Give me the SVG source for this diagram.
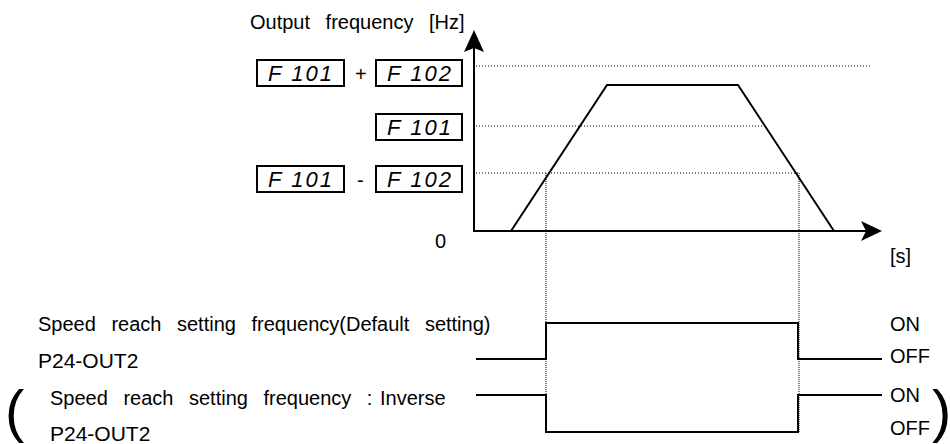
<svg xmlns="http://www.w3.org/2000/svg" width="950" height="444" viewBox="0 0 950 444">
<style>
  text { font-family: "Liberation Sans", Arial, sans-serif; fill: #000; }
  .lbl { font-size: 20px; }
  .wide { word-spacing: 10px; }
  .p24 { font-size: 21px; }
  .seg { font-size: 22px; font-style: italic; }
  .box { fill: #fff; stroke: #000; stroke-width: 2; }
  .solid { fill: none; stroke: #000; stroke-width: 2; }
  .dot { fill: none; stroke: #000; stroke-width: 1; stroke-dasharray: 1 2; }
  .vdot { fill: none; stroke: #000; stroke-width: 1; stroke-dasharray: 1 1; }
  .paren { font-size: 58px; }
</style>
<rect width="950" height="444" fill="#fff"/>

<g id="connectors">
  <line class="dot" x1="476" y1="66" x2="870" y2="66"/>
  <line class="dot" x1="476" y1="126" x2="762" y2="126"/>
  <line class="dot" x1="476" y1="173" x2="798" y2="173"/>
  <line class="vdot" x1="546" y1="173" x2="546" y2="432"/>
  <line class="vdot" x1="799" y1="173" x2="799" y2="432"/>
</g>

<g id="axes">
  <line class="solid" x1="474" y1="231" x2="474" y2="46"/>
  <path d="M474,30 L484,52 L474,48 L464,52 Z" fill="#000"/>
  <line class="solid" x1="473" y1="231" x2="866" y2="231"/>
  <path d="M882,231 L861,241 L866,231 L861,221 Z" fill="#000"/>
  <text class="lbl wide" x="250" y="29">Output frequency [Hz]</text>
  <text class="lbl" x="435" y="248">0</text>
  <text class="lbl" x="890" y="263">[s]</text>
</g>

<g id="frequency-curve">
  <polyline class="solid" points="511,231 607,85 738,85 834,231"/>
</g>

<g id="level-sum">
  <rect class="box" x="257" y="60" width="87" height="26"/>
  <text class="seg" x="268" y="81" textLength="64" lengthAdjust="spacing">F 101</text>
  <text class="lbl" x="355" y="81">+</text>
  <rect class="box" x="376" y="60" width="86" height="26"/>
  <text class="seg" x="387" y="81" textLength="64" lengthAdjust="spacing">F 102</text>
</g>

<g id="level-f101">
  <rect class="box" x="376" y="114" width="86" height="26"/>
  <text class="seg" x="387" y="135" textLength="64" lengthAdjust="spacing">F 101</text>
</g>

<g id="level-diff">
  <rect class="box" x="257" y="166" width="87" height="26"/>
  <text class="seg" x="268" y="187" textLength="64" lengthAdjust="spacing">F 101</text>
  <text class="lbl" x="357" y="187">-</text>
  <rect class="box" x="376" y="166" width="86" height="26"/>
  <text class="seg" x="387" y="187" textLength="64" lengthAdjust="spacing">F 102</text>
</g>

<g id="signal-default">
  <text class="lbl wide" x="38" y="331">Speed reach setting frequency(Default setting)</text>
  <text class="p24" x="38" y="368">P24-OUT2</text>
  <polyline class="solid" points="476,359 546,359 546,323 798,323 798,359 882,359"/>
  <text class="lbl" x="890" y="331">ON</text>
  <text class="lbl" x="890" y="363">OFF</text>
</g>

<g id="signal-inverse">
  <text class="paren" x="5" y="431">(</text>
  <text class="lbl" x="50" y="405"><tspan class="wide">Speed reach setting frequency </tspan><tspan style="word-spacing:2px">: Inverse</tspan></text>
  <text class="p24" x="50" y="441">P24-OUT2</text>
  <polyline class="solid" points="476,395 546,395 546,432 798,432 798,395 882,395"/>
  <text class="lbl" x="890" y="402">ON</text>
  <text class="lbl" x="890" y="435">OFF</text>
  <text class="paren" x="932" y="431">)</text>
</g>
</svg>
